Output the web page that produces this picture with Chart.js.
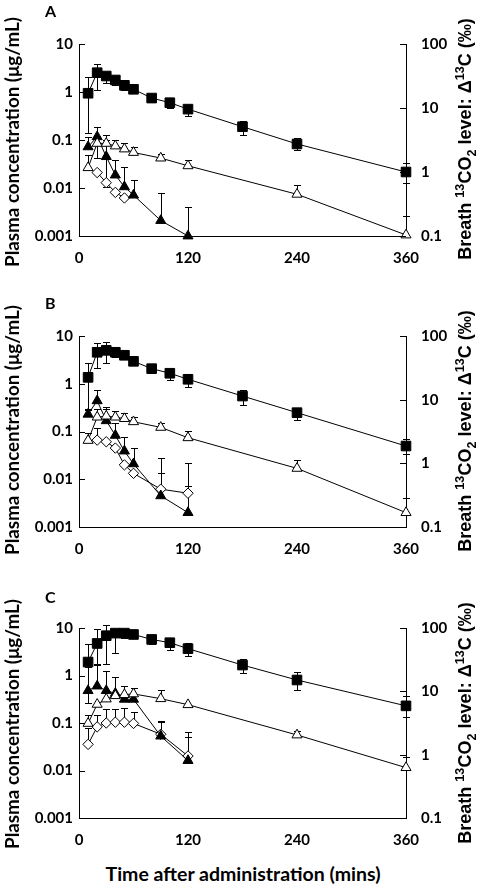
<!DOCTYPE html>
<html>
<head>
<meta charset="utf-8">
<script src="https://cdn.jsdelivr.net/npm/chart.js@4.4.1/dist/chart.umd.min.js"></script>
<style>
  html, body { margin:0; padding:0; background:#fff; }
  body { width:480px; height:888px; position:relative; overflow:hidden; font-family: Lato, "DejaVu Sans", sans-serif; font-weight:bold; color:#000; }
  .cv { position:absolute; left:0; width:480px; height:275px; }
  .lbl { position:absolute; white-space:nowrap; text-align:center; font-weight:bold; height:24px; line-height:24px; }
  .rot { transform: rotate(-90deg); transform-origin: center center; }
  .arial { font-family: "Liberation Sans", Arial, sans-serif; }
  sup, sub { font-size:70%; line-height:0; }
</style>
</head>
<body>
<canvas id="cA" class="cv" style="top:0px"></canvas>
<canvas id="cB" class="cv" style="top:292px"></canvas>
<canvas id="cC" class="cv" style="top:584px"></canvas>

<div class="lbl" style="left:45px;top:-1px;font-size:16px;">A</div>
<div class="lbl" style="left:45px;top:291px;font-size:16px;">B</div>
<div class="lbl" style="left:45px;top:585px;font-size:16px;">C</div>

<div class="lbl rot fit" data-w="250" data-cx="12" data-cy="142"><span>Plasma concentration (μg/mL)</span></div>
<div class="lbl rot fit" data-w="250" data-cx="12" data-cy="430"><span>Plasma concentration (μg/mL)</span></div>
<div class="lbl rot fit" data-w="250" data-cx="12" data-cy="724"><span>Plasma concentration (μg/mL)</span></div>

<div class="lbl rot fit arial" data-w="242" data-cx="465" data-cy="139"><span>Breath <sup>13</sup>CO<sub>2</sub> level: Δ<sup>13</sup>C (‰)</span></div>
<div class="lbl rot fit arial" data-w="242" data-cx="465" data-cy="431"><span>Breath <sup>13</sup>CO<sub>2</sub> level: Δ<sup>13</sup>C (‰)</span></div>
<div class="lbl rot fit arial" data-w="242" data-cx="465" data-cy="723"><span>Breath <sup>13</sup>CO<sub>2</sub> level: Δ<sup>13</sup>C (‰)</span></div>

<div class="lbl fit" data-w="275" data-cx="243" data-cy="874"><span>Time after administration (mins)</span></div>

<script>
// ---------- tick labels ----------
const xTicks = [0, 120, 240, 360];
const leftTicks = [10, 1, 0.1, 0.01, 0.001];
const leftTickLabels = ['10', '1', '0.1', '0.01', '0.001'];
const rightTicks = [100, 10, 1, 0.1];
const rightTickLabels = ['100', '10', '1', '0.1'];

// ---------- sampling times (min) ----------
const tBreath = [10, 20, 30, 40, 50, 60, 80, 100, 120, 180, 240, 360];
const tParent = [10, 20, 30, 40, 50, 60, 90, 120, 240, 360];
const tMetab = [10, 20, 30, 40, 50, 60, 90, 120];
const tDiamondA = [20, 30, 40, 50];
const tDiamondB = [20, 30, 40, 50, 60, 90, 120];

// ---------- Panel A ----------
const breathA    = [17, 35.6, 31.6, 27.4, 22.6, 19.6, 14.3, 12.1, 9.6, 5.1, 2.74, 1.0];
const breathAHi  = [30, 49, 36, 31.6, 25.8, 22, 16.6, 14.2, 11.2, 6.3, 3.4, 1.37];
const breathALo  = [4.1, 19, 24.8, 22.6, 19, 17, 12.4, 10.1, 7.5, 3.8, 2.2, 0.67];
const openTriA   = [0.0265, 0.085, 0.085, 0.075, 0.065, 0.055, 0.042, 0.029, 0.0074, 0.00105];
const openTriAHi = [0.048, 0.12, 0.127, 0.1, 0.086, 0.072, 0.051, 0.038, 0.0118, 0.0026];
const filledTriA   = [0.072, 0.117, 0.045, 0.0186, 0.0106, 0.0071, 0.0021, 0.001];
const filledTriAHi = [0.117, 0.19, 0.1, 0.038, 0.027, 0.0146, 0.0079, 0.0041];
const filledTriALo = [null, 0.042, 0.0106, null, null, null, null, null];
const diamondA   = [0.021, 0.0129, 0.0081, 0.0062];

// ---------- Panel B ----------
const breathB    = [22.4, 55.5, 59.5, 55.5, 49.8, 40, 30.7, 26, 20.9, 11.4, 6.25, 1.87];
const breathBHi  = [37, 78.5, 80, 68, 55.5, 46, 35.5, 30.3, 25, 14.2, 7.5, 2.4];
const breathBLo  = [6.9, 31, 37, 46, 43, 35, 26, 20.4, 16, 8.3, 4.8, 1.39];
const openTriB   = [0.065, 0.2, 0.21, 0.2, 0.186, 0.16, 0.122, 0.074, 0.0169, 0.002];
const openTriBHi = [0.092, 0.3, 0.32, 0.27, 0.24, 0.2, 0.15, 0.104, 0.0253, 0.0041];
const filledTriB   = [0.23, 0.44, 0.168, 0.083, 0.039, 0.021, 0.0045, 0.002];
const filledTriBHi = [0.3, 0.74, 0.3, 0.15, 0.078, 0.046, 0.0138, 0.0073];
const diamondB   = [0.066, 0.061, 0.045, 0.02, 0.0133, 0.0062, 0.0051];
const diamondBHi = [0.117, null, null, null, null, 0.028, 0.022];

// ---------- Panel C ----------
const breathC    = [29, 57, 75.6, 83, 83, 79, 66, 58.6, 47.2, 26, 15.1, 5.9];
const breathCHi  = [55, 96, 110, 97, 96, 90, 75.6, 67, 57, 32.4, 20, 8.4];
const breathCLo  = [6.5, 27, 26.7, 41, 70, 70, 55, 45, 36, 19.3, 10.5, 3.9];
const openTriC   = [0.098, 0.247, 0.32, 0.376, 0.395, 0.41, 0.325, 0.243, 0.056, 0.0115];
const openTriCHi = [0.15, null, null, null, null, null, 0.495, null, 0.068, 0.0196];
const filledTriC   = [0.48, 0.6, 0.48, 0.42, 0.316, 0.316, 0.053, 0.0162];
const filledTriCHi = [1.5, 1.64, 1.24, 0.91, 0.6, 0.55, 0.106, 0.05];
const diamondC   = [0.0355, 0.083, 0.1, 0.104, 0.104, 0.098, 0.058, 0.0202];
const diamondCHi = [0.077, 0.147, 0.194, 0.194, 0.204, 0.168, 0.11, 0.066];

const FONT = 'Lato, "DejaVu Sans", sans-serif';

// ---------- fit axis titles to measured lengths ----------
function fitTitles() {
  document.querySelectorAll('.fit').forEach(el => {
    const span = el.querySelector('span');
    const target = +el.dataset.w;
    el.style.fontSize = '20px';
    el.style.width = '400px';
    const w = span.offsetWidth;
    const fs = 20 * target / w;
    el.style.fontSize = fs.toFixed(2) + 'px';
    const W = 400, H = 24;
    el.style.left = (+el.dataset.cx - W / 2) + 'px';
    el.style.top = (+el.dataset.cy - H / 2) + 'px';
  });
}
fitTitles();
if (document.fonts && document.fonts.ready) document.fonts.ready.then(fitTitles);

function pts(ts, vs) { return ts.map((t, i) => ({ x: t, y: vs[i] })); }

function ds(label, ts, vs, style, hi, lo, axis) {
  const filled = style.filled;
  return {
    label,
    data: pts(ts, vs),
    yAxisID: axis || 'y',
    borderColor: '#000',
    borderWidth: 1,
    backgroundColor: filled ? '#000' : '#fff',
    pointStyle: style.shape,
    pointRadius: style.r,
    pointHoverRadius: style.r,
    pointBorderWidth: 1,
    pointBorderColor: '#000',
    pointBackgroundColor: filled ? '#000' : '#fff',
    tension: 0,
    fill: false,
    clip: false,
    errHi: hi || null,
    errLo: lo || null
  };
}

const SQ = { shape: 'rect', r: 6.8, filled: true };
const OT = { shape: 'triangle', r: 5.8, filled: false };
const FT = { shape: 'triangle', r: 5.8, filled: true };
const DM = { shape: 'rectRot', r: 5.2, filled: false };

const errorBars = {
  id: 'errorBars',
  beforeDatasetsDraw(chart) {
    const ctx = chart.ctx;
    ctx.save();
    ctx.strokeStyle = '#000';
    ctx.lineWidth = 1;
    chart.data.datasets.forEach((d) => {
      const ys = chart.scales[d.yAxisID];
      const xs = chart.scales.x;
      d.data.forEach((p, i) => {
        const x = Math.round(xs.getPixelForValue(p.x)) + 0.5;
        const y = ys.getPixelForValue(p.y);
        [d.errHi, d.errLo].forEach(arr => {
          if (!arr || arr[i] == null) return;
          const ye = Math.round(ys.getPixelForValue(arr[i])) + 0.5;
          ctx.beginPath();
          ctx.moveTo(x, y);
          ctx.lineTo(x, ye);
          ctx.moveTo(x - 3.5, ye);
          ctx.lineTo(x + 3.5, ye);
          ctx.stroke();
        });
      });
    });
    ctx.restore();
  },
  afterDraw(chart) {
    const ctx = chart.ctx;
    ctx.save();
    ctx.strokeStyle = '#000';
    ctx.lineWidth = 1;
    const a = chart.chartArea;
    const y = chart.scales.y, y2 = chart.scales.y2;
    leftTicks.forEach(v => {
      const py = Math.round(y.getPixelForValue(v)) + 0.5;
      ctx.beginPath(); ctx.moveTo(a.left, py); ctx.lineTo(a.left + 6, py); ctx.stroke();
    });
    rightTicks.forEach(v => {
      const py = Math.round(y2.getPixelForValue(v)) + 0.5;
      ctx.beginPath(); ctx.moveTo(a.right, py); ctx.lineTo(a.right - 6, py); ctx.stroke();
    });
    ctx.restore();
  }
};

function makeChart(id, plotH, datasets) {
  const H = 275, TOP = 44;
  new Chart(document.getElementById(id), {
    type: 'line',
    data: { datasets },
    plugins: [errorBars],
    options: {
      responsive: false,
      animation: false,
      maintainAspectRatio: false,
      layout: { padding: { top: TOP, left: 0, right: 0, bottom: 0 } },
      plugins: { legend: { display: false }, tooltip: { enabled: false } },
      scales: {
        x: {
          type: 'linear', position: 'bottom', min: 0, max: 360,
          afterBuildTicks: s => { s.ticks = xTicks.map(v => ({ value: v })); },
          afterFit: s => { s.height = H - TOP - plotH; },
          grid: { display: false, drawTicks: false },
          border: { display: true, color: '#000', width: 1 },
          ticks: { padding: 13, color: '#000', font: { family: FONT, size: 15, weight: 'bold' }, maxRotation: 0, autoSkip: false,
                   callback: v => String(v) }
        },
        y: {
          type: 'logarithmic', position: 'left', min: 0.001, max: 10,
          afterBuildTicks: s => { s.ticks = leftTicks.map(v => ({ value: v })); },
          afterFit: s => { s.width = 79; },
          grid: { display: false, drawTicks: false },
          border: { display: true, color: '#000', width: 1 },
          ticks: { padding: 6, color: '#000', font: { family: FONT, size: 15, weight: 'bold' }, autoSkip: false,
                   callback: (v) => { const i = leftTicks.findIndex(t => Math.abs(t - v) / t < 1e-6); return i >= 0 ? leftTickLabels[i] : ''; } }
        },
        y2: {
          type: 'logarithmic', position: 'right', min: 0.1, max: 100,
          afterBuildTicks: s => { s.ticks = rightTicks.map(v => ({ value: v })); },
          afterFit: s => { s.width = 74; },
          grid: { display: false, drawTicks: false },
          border: { display: true, color: '#000', width: 1 },
          ticks: { padding: 15, color: '#000', font: { family: FONT, size: 15, weight: 'bold' }, autoSkip: false,
                   callback: (v) => { const i = rightTicks.findIndex(t => Math.abs(t - v) / t < 1e-6); return i >= 0 ? rightTickLabels[i] : ''; } }
        }
      }
    }
  });
}

['cA', 'cB', 'cC'].forEach(id => { const c = document.getElementById(id); c.width = 480; c.height = 275; });

makeChart('cA', 192, [
  ds('Breath 13CO2', tBreath, breathA, SQ, breathAHi, breathALo, 'y2'),
  ds('Open triangle', tParent, openTriA, OT, openTriAHi),
  ds('Filled triangle', tMetab, filledTriA, FT, filledTriAHi, filledTriALo),
  ds('Diamond', tDiamondA, diamondA, DM)
]);
makeChart('cB', 191, [
  ds('Breath 13CO2', tBreath, breathB, SQ, breathBHi, breathBLo, 'y2'),
  ds('Open triangle', tParent, openTriB, OT, openTriBHi),
  ds('Filled triangle', tMetab, filledTriB, FT, filledTriBHi),
  ds('Diamond', tDiamondB, diamondB, DM, diamondBHi)
]);
makeChart('cC', 190, [
  ds('Breath 13CO2', tBreath, breathC, SQ, breathCHi, breathCLo, 'y2'),
  ds('Open triangle', tParent, openTriC, OT, openTriCHi),
  ds('Filled triangle', tMetab, filledTriC, FT, filledTriCHi),
  ds('Diamond', tMetab, diamondC, DM, diamondCHi)
]);
</script>
</body>
</html>
